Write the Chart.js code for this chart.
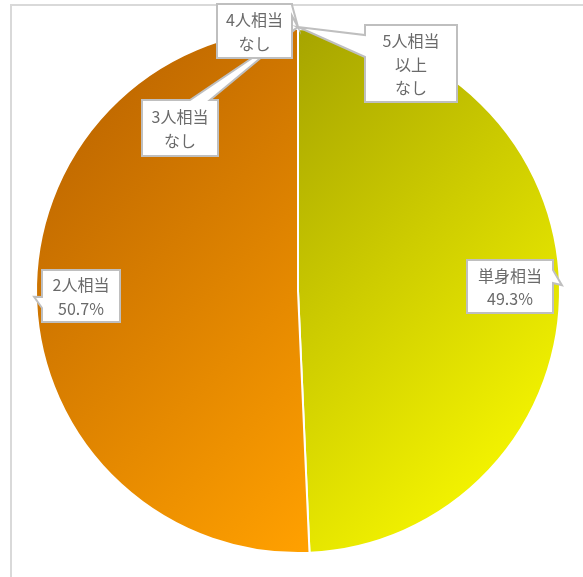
<!DOCTYPE html>
<html>
<head>
<meta charset="utf-8">
<script src="https://cdn.jsdelivr.net/npm/chart.js@4"></script>
<style>
  body { margin: 0; background: #fff; }
  #wrap { position: relative; width: 583px; height: 577px; }
</style>
</head>
<body>
<div id="wrap"><canvas id="graficoPie" width="583" height="577"></canvas></div>
<script>
// データ
const categorias = ['単身相当', '2人相当', '3人相当', '4人相当', '5人相当以上'];
const porcentagens = [49.3, 50.7, 0, 0, 0];
const linhasRotulo = [['単身相当'], ['2人相当'], ['3人相当'], ['4人相当'], ['5人相当', '以上']];

// cores (gradiente por fatia: início, fim, comprimento relativo)
const gradientes = [
  ['#a6a400', '#f4f400', 0.62],
  ['#b45e00', '#ffa000', 0.75],
  ['#888888', '#aaaaaa', 0.75],
  ['#888888', '#aaaaaa', 0.75],
  ['#888888', '#aaaaaa', 0.75]
];

// caixas dos rótulos: x, y, largura, altura, lado da seta, início/fim da base da seta
const caixas = [
  { x: 467, y: 260, w: 86, h: 53, lado: 'right', b0: 10, b1: 23 },
  { x: 42, y: 270, w: 78, h: 52, lado: 'left', b0: 27, b1: 38 },
  { x: 142, y: 100, w: 76, h: 56, lado: 'top', b0: 48, b1: 68 },
  { x: 217, y: 4, w: 75, h: 54, lado: 'right', b0: 1, b1: 12 },
  { x: 365, y: 25, w: 92, h: 77, lado: 'left', b0: 10, b1: 32 }
];

function textoValor(v) {
  return v === 0 ? 'なし' : v.toFixed(1) + '%';
}

const moldura = {
  id: 'moldura',
  beforeDraw(chart) {
    const c = chart.ctx;
    c.save();
    c.strokeStyle = '#d9d9d9';
    c.lineWidth = 2;
    c.beginPath();
    c.moveTo(11, 577);
    c.lineTo(11, 5);
    c.lineTo(583, 5);
    c.stroke();
    c.restore();
  }
};

const rotulos = {
  id: 'rotulos',
  afterDraw(chart) {
    const c = chart.ctx;
    const arcos = chart.getDatasetMeta(0).data;
    // 3人 antes de 4人: a caixa de cima cobre a ponta da seta
    [0, 1, 2, 3, 4].forEach(i => {
      const a = arcos[i].getProps(['x', 'y', 'startAngle', 'endAngle', 'outerRadius'], true);
      const meio = (a.startAngle + a.endAngle) / 2;
      const tx = a.x + Math.cos(meio) * (a.outerRadius + 2);
      const ty = a.y + Math.sin(meio) * (a.outerRadius + 2);
      const b = caixas[i];
      const L = b.x, T = b.y, R = b.x + b.w, B = b.y + b.h;

      c.save();
      c.beginPath();
      c.moveTo(L, T);
      if (b.lado === 'top') {
        c.lineTo(L + b.b0, T); c.lineTo(tx, ty); c.lineTo(L + b.b1, T);
      }
      c.lineTo(R, T);
      if (b.lado === 'right') {
        c.lineTo(R, T + b.b0); c.lineTo(tx, ty); c.lineTo(R, T + b.b1);
      }
      c.lineTo(R, B);
      c.lineTo(L, B);
      if (b.lado === 'left') {
        c.lineTo(L, T + b.b1); c.lineTo(tx, ty); c.lineTo(L, T + b.b0);
      }
      c.closePath();
      c.fillStyle = '#ffffff';
      c.fill();
      c.strokeStyle = '#bfbfbf';
      c.lineWidth = 2;
      c.stroke();

      const linhas = linhasRotulo[i].concat([textoValor(porcentagens[i])]);
      c.fillStyle = '#6a6a6a';
      c.font = '16px "Noto Sans CJK JP"';
      c.textAlign = 'center';
      c.textBaseline = 'middle';
      const lh = 23.5;
      const y0 = (T + B) / 2 - (linhas.length - 1) * lh / 2;
      linhas.forEach((t, k) => c.fillText(t, (L + R) / 2, y0 + k * lh + 1));
      c.restore();
    });
  }
};

const ctx = document.getElementById('graficoPie').getContext('2d');
new Chart(ctx, {
  type: 'pie',
  data: {
    labels: categorias,
    datasets: [{
      data: porcentagens,
      backgroundColor: function (context) {
        const chart = context.chart;
        const area = chart.chartArea;
        if (!area) return null;
        const i = context.dataIndex;
        const cx = (area.left + area.right) / 2;
        const h = area.bottom - area.top;
        // gradiente diagonal (45°) sobre a caixa de cada metade
        const x0 = i === 0 ? cx : area.left;
        const t = h * gradientes[i][2];
        const g = chart.ctx.createLinearGradient(x0, area.top, x0 + t, area.top + t);
        g.addColorStop(0, gradientes[i][0]);
        g.addColorStop(1, gradientes[i][1]);
        return g;
      },
      borderColor: '#ffffff',
      borderWidth: 2
    }]
  },
  options: {
    responsive: false,
    animation: false,
    layout: { padding: { left: 35, right: 22, top: 28, bottom: 23 } },
    plugins: {
      legend: { display: false },
      tooltip: { enabled: false },
      title: { display: false }
    }
  },
  plugins: [moldura, rotulos]
});
</script>
</body>
</html>
